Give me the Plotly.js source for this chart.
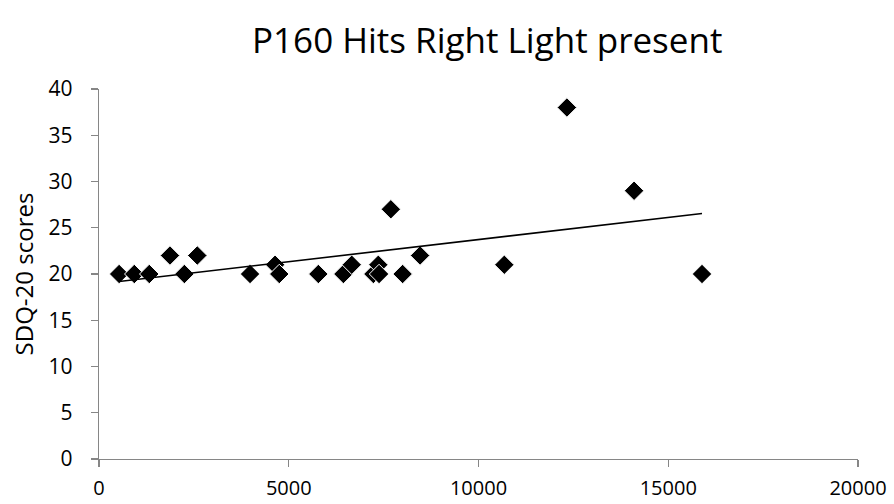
<!DOCTYPE html>
<html>
<head>
<meta charset="utf-8">
<script src="https://cdn.plot.ly/plotly-3.0.1.min.js"></script>
<style>html,body{margin:0;padding:0;background:#fff;}#chart{width:894px;height:504px;}</style>
</head>
<body>
<div id="chart"></div>
<script>
const hits = [530, 930, 1325, 1870, 2250, 2590, 3980, 4640, 4750, 5780, 6440, 6660, 7230, 7360, 7380, 7690, 8000, 8460, 10680, 12330, 14100, 15890];
const sdqScores = [20, 20, 20, 22, 20, 22, 20, 21, 20, 20, 20, 21, 20, 21, 20, 27, 20, 22, 21, 38, 29, 20];
const xTicks = [0, 5000, 10000, 15000, 20000];
const yTicks = [0, 5, 10, 15, 20, 25, 30, 35, 40];

// linear least-squares trendline from the data
const n = hits.length;
const mx = hits.reduce((a, b) => a + b, 0) / n;
const my = sdqScores.reduce((a, b) => a + b, 0) / n;
let sxy = 0, sxx = 0;
for (let i = 0; i < n; i++) { sxy += (hits[i] - mx) * (sdqScores[i] - my); sxx += (hits[i] - mx) ** 2; }
const slope = sxy / sxx, intercept = my - slope * mx;
const xMin = Math.min(...hits), xMax = Math.max(...hits);
const trendX = [xMin, xMax];
const trendY = trendX.map(v => intercept + slope * v);

const font = "Open Sans, Noto Sans, sans-serif";
const data = [
  {x: hits, y: sdqScores, type: 'scatter', mode: 'markers',
   marker: {symbol: 'diamond', size: 15, color: '#000', line: {color: '#fff', width: 1}},
   hoverinfo: 'x+y'},
  {x: trendX, y: trendY, type: 'scatter', mode: 'lines',
   line: {color: '#000', width: 1.6}, hoverinfo: 'skip'}
];
const axisCommon = {showgrid: false, zeroline: false, showline: true, linecolor: '#868686', linewidth: 1.3,
  ticks: 'outside', tickcolor: '#868686', ticklen: 7, tickwidth: 1.3, tickfont: {family: font, size: 20, color: '#000'}};
const layout = {
  width: 894, height: 504,
  margin: {l: 99, r: 36, t: 89, b: 45},
  paper_bgcolor: '#fff', plot_bgcolor: '#fff',
  showlegend: false,
  title: {text: 'P160 Hits Right Light present', font: {family: font, size: 35, color: '#000'}, x: 0.545, xanchor: 'center', y: 0.92, yanchor: 'middle'},
  xaxis: Object.assign({}, axisCommon, {range: [0, 20000], tickvals: xTicks, ticktext: xTicks.map(String), ticklabelstandoff: 4}),
  yaxis: Object.assign({}, axisCommon, {range: [0, 40], tickvals: yTicks, ticktext: yTicks.map(String), ticklabelstandoff: 14,
    tickfont: {family: font, size: 21, color: '#000'},
    title: {text: 'SDQ-20 scores', font: {family: font, size: 24, color: '#000'}, standoff: 8}})
};
Plotly.newPlot('chart', data, layout, {displayModeBar: false, staticPlot: true});
</script>
</body>
</html>
